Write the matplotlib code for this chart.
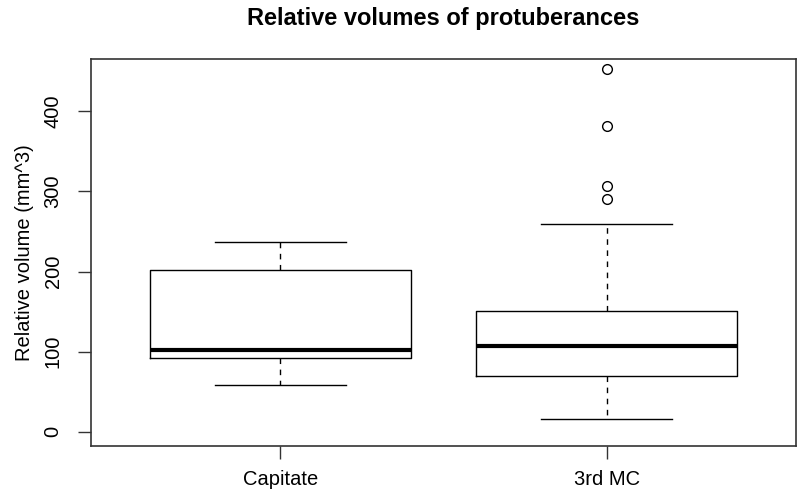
import matplotlib
matplotlib.use('Agg')
import matplotlib.pyplot as plt

plt.rcParams['font.family'] = ['Liberation Sans', 'DejaVu Sans']

# data (R-style boxplot summary stats)
groups = ["Capitate", "3rd MC"]
whisker_lo = [58.8, 15.5]
q1 = [92.5, 70.0]
median = [101.7, 106.7]
q3 = [202.5, 150.5]
whisker_hi = [236.7, 258.8]
outliers = [[], [290.9, 307.1, 381.8, 453.0]]
yticks = [0, 100, 200, 300, 400]

stats = []
for i, name in enumerate(groups):
    stats.append(dict(label=name, whislo=whisker_lo[i], q1=q1[i],
                      med=median[i], q3=q3[i], whishi=whisker_hi[i],
                      fliers=outliers[i]))

fig = plt.figure(figsize=(8, 4.95), dpi=100)
ax = fig.add_axes([0.1138, 0.099, 0.995 - 0.1138, 0.8808 - 0.099])

ax.bxp(stats, positions=[1, 2], widths=0.8, capwidths=0.4,
       boxprops=dict(color='black', lw=1),
       medianprops=dict(color='black', lw=3, solid_capstyle='butt'),
       whiskerprops=dict(color='black', lw=1, ls=(0, (4, 4))),
       capprops=dict(color='black', lw=1),
       flierprops=dict(marker='o', markerfacecolor='none',
                       markeredgecolor='black', markersize=7, mew=1))

ax.set_xlim(0.42, 2.58)
ax.set_ylim(-18, 465.5)
ax.set_yticks(yticks)
ax.set_yticklabels([str(v) for v in yticks], rotation=90, va='center')
ax.tick_params(axis='both', length=9.5, width=1, color='#333333',
               labelsize=14.5)
ax.tick_params(axis='y', pad=11)
ax.tick_params(axis='x', pad=7.5)
for s in ax.spines.values():
    s.set_color('#333333')
    s.set_linewidth(1.2)

ax.set_ylabel('Relative volume (mm^3)', fontsize=14.5, labelpad=7)
ax.set_title('Relative volumes of protuberances', fontsize=17,
             fontweight='bold', pad=24.5)

plt.savefig('out.png', dpi=100)
plt.close()
